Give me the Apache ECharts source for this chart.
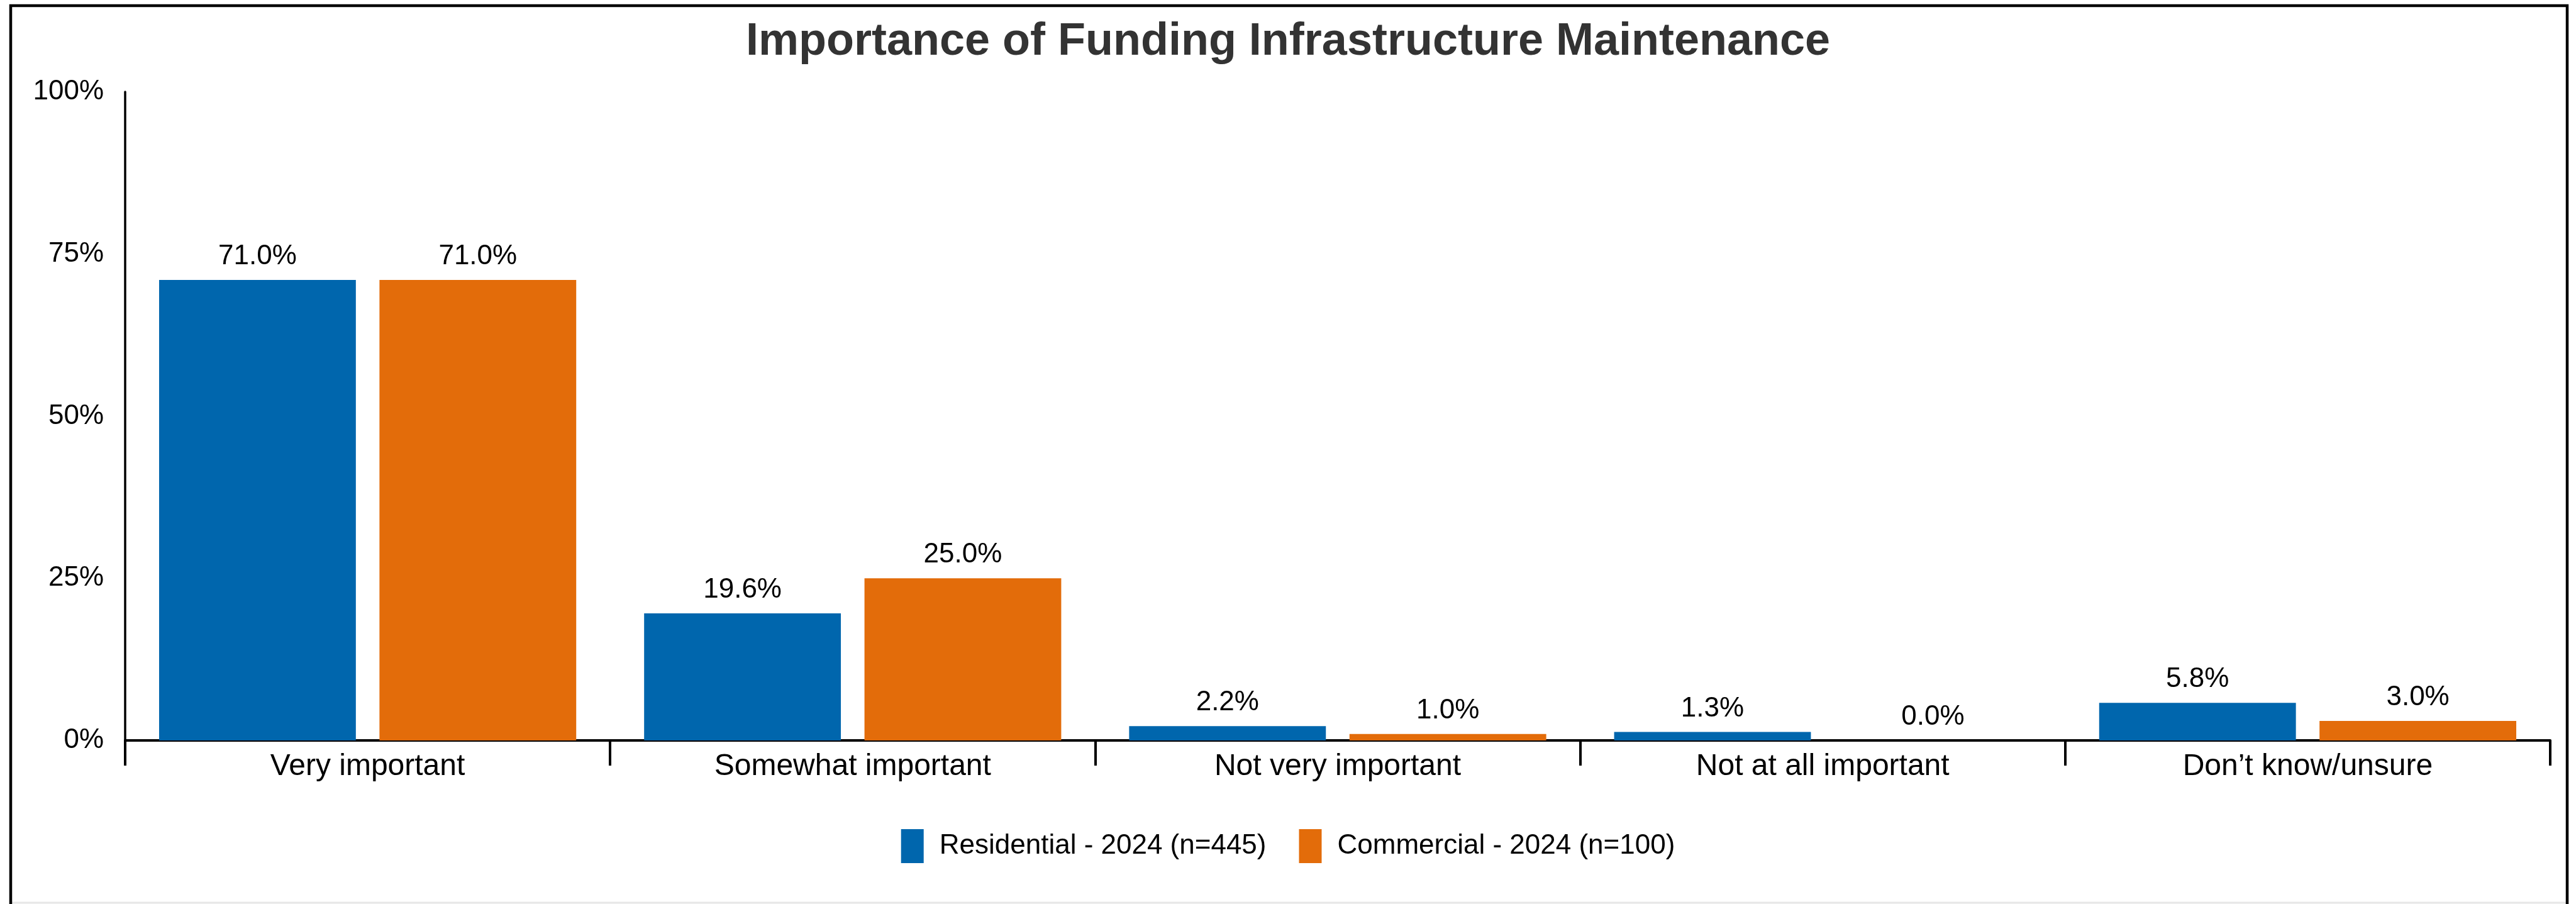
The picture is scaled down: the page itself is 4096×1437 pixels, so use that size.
<!DOCTYPE html>
<html>
<head>
<meta charset="utf-8">
<title>Importance of Funding Infrastructure Maintenance</title>
<script src="https://cdn.jsdelivr.net/npm/echarts@6/dist/echarts.min.js"></script>
<style>
  html, body { margin: 0; padding: 0; background: #ffffff; }
  #chart { width: 4096px; height: 1437px; }
</style>
</head>
<body>
<div id="chart"></div>
<script>
// Survey responses, percent of respondents
const categories = ['Very important', 'Somewhat important', 'Not very important', 'Not at all important', 'Don\u2019t know/unsure'];
const residential = [71.0, 19.6, 2.2, 1.3, 5.8];
const commercial = [71.0, 25.0, 1.0, 0.0, 3.0];
const seriesNames = ['Residential - 2024 (n=445)', 'Commercial - 2024 (n=100)'];
const yTicks = [0, 25, 50, 75, 100];

const FONT = '"Liberation Sans", Arial, Helvetica, sans-serif';
const BLUE = '#0066ad';
const ORANGE = '#e36c0a';

const chart = echarts.init(document.getElementById('chart'), null, { renderer: 'canvas' });

const valueLabel = {
  show: true,
  position: 'top',
  distance: 15,
  fontFamily: FONT,
  fontSize: 44,
  color: '#000',
  formatter: p => p.value.toFixed(1) + '%'
};

chart.setOption({
  backgroundColor: '#ffffff',
  animation: false,
  title: {
    text: 'Importance of Funding Infrastructure Maintenance',
    left: 'center',
    top: 31,
    padding: 0,
    textStyle: { fontFamily: FONT, fontSize: 72, fontWeight: 'bold', color: '#333' }
  },
  legend: {
    data: seriesNames,
    left: 'center',
    top: 1318,
    padding: 0,
    icon: 'rect',
    itemWidth: 36,
    itemHeight: 54,
    itemGap: 52,
    textStyle: { fontFamily: FONT, fontSize: 44, color: '#000', padding: [14, 0, 0, 20] }
  },
  grid: { left: 199, right: 41, top: 146, bottom: 260, containLabel: false },
  xAxis: {
    type: 'category',
    data: categories,
    boundaryGap: true,
    axisLine: { show: true, lineStyle: { color: '#000', width: 4 } },
    axisTick: { show: true, length: 40, lineStyle: { color: '#000', width: 4 } },
    axisLabel: { fontFamily: FONT, fontSize: 48, color: '#000', margin: 18, interval: 0 },
    splitLine: { show: false }
  },
  yAxis: {
    type: 'value',
    min: yTicks[0],
    max: yTicks[yTicks.length - 1],
    interval: 25,
    axisLine: { show: true, lineStyle: { color: '#000', width: 3.5 } },
    axisTick: { show: false },
    splitLine: { show: false },
    axisLabel: { fontFamily: FONT, fontSize: 44, color: '#000', margin: 34, formatter: '{value}%' }
  },
  series: [
    {
      name: seriesNames[0],
      type: 'bar',
      data: residential,
      itemStyle: { color: BLUE },
      barCategoryGap: '14%',
      barGap: '12%',
      label: valueLabel
    },
    {
      name: seriesNames[1],
      type: 'bar',
      data: commercial,
      itemStyle: { color: ORANGE },
      barCategoryGap: '14%',
      barGap: '12%',
      label: valueLabel
    }
  ],
  graphic: [
    {
      type: 'rect',
      shape: { x: 17, y: 9, width: 4065, height: 1450 },
      style: { fill: null, stroke: '#000', lineWidth: 4.5 },
      silent: true,
      z: 100
    },
    {
      type: 'line',
      shape: { x1: 19, y1: 1435, x2: 4080, y2: 1435 },
      style: { stroke: '#e6e6e6', lineWidth: 3 },
      silent: true,
      z: 99
    }
  ]
});
</script>
</body>
</html>
